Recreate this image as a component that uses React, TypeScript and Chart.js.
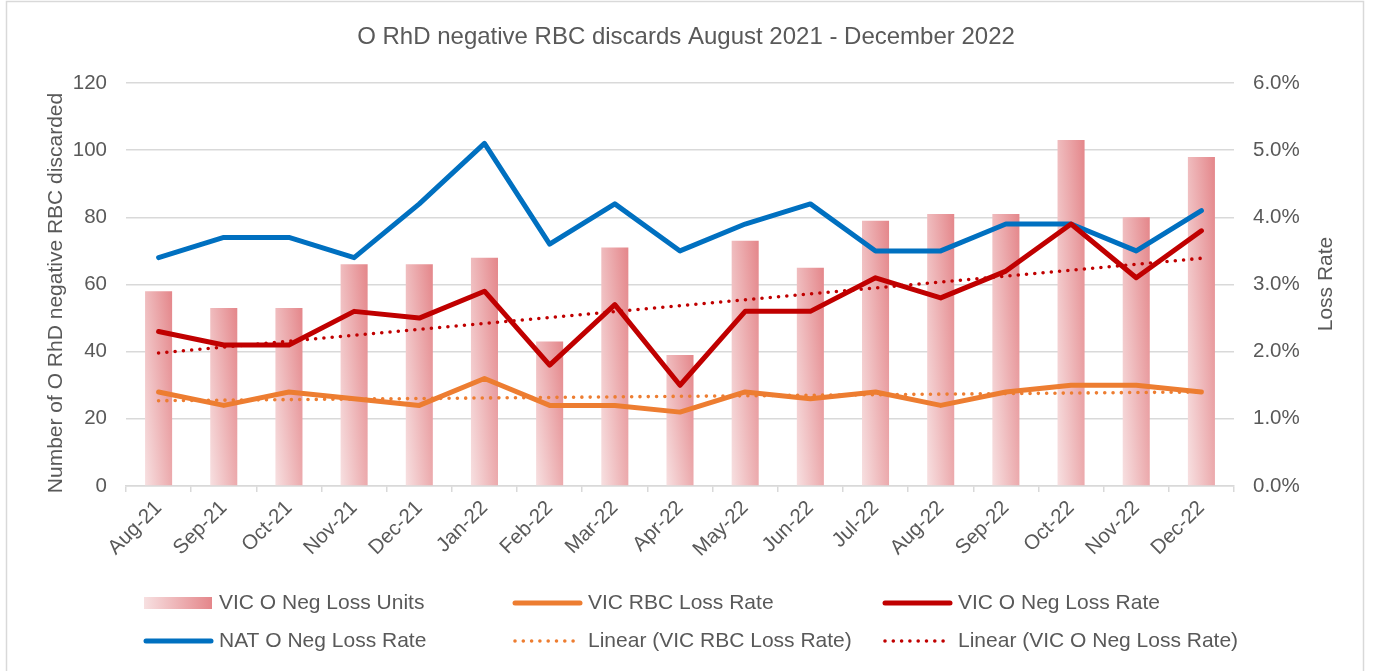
import React, { useEffect, useRef } from 'react';
import { Chart, registerables } from 'chart.js';

Chart.register(...registerables);

// ---- data ----
const months = ['Aug-21', 'Sep-21', 'Oct-21', 'Nov-21', 'Dec-21', 'Jan-22', 'Feb-22', 'Mar-22', 'Apr-22', 'May-22', 'Jun-22', 'Jul-22', 'Aug-22', 'Sep-22', 'Oct-22', 'Nov-22', 'Dec-22'];
const vicONegLossUnits = [58, 53, 53, 66, 66, 68, 43, 71, 39, 73, 65, 79, 81, 81, 103, 80, 98];
const vicRbcLossRate = [1.4, 1.2, 1.4, 1.3, 1.2, 1.6, 1.2, 1.2, 1.1, 1.4, 1.3, 1.4, 1.2, 1.4, 1.5, 1.5, 1.4];
const vicONegLossRate = [2.3, 2.1, 2.1, 2.6, 2.5, 2.9, 1.8, 2.7, 1.5, 2.6, 2.6, 3.1, 2.8, 3.2, 3.9, 3.1, 3.8];
const natONegLossRate = [3.4, 3.7, 3.7, 3.4, 4.2, 5.1, 3.6, 4.2, 3.5, 3.9, 4.2, 3.5, 3.5, 3.9, 3.9, 3.5, 4.1];
// trend lines: values read at first and last month
const vicRbcTrend = [1.27, 1.40];
const vicONegTrend = [1.98, 3.39];
const leftAxis = { min: 0, max: 120, step: 20 };
const rightAxis = { min: 0, max: 6, step: 1 };

const FONT = '"Liberation Sans", Arial, sans-serif';
const TEXT = '#595959';
const GRID = '#d9d9d9';
const BAR_LIGHT = '#f7e0e1';
const BAR_DARK = '#e4868a';
const BAR_PCT = 0.415;

function trendSeries(ends: number[]): (number | null)[] {
  return months.map((_, i) => (i === 0 ? ends[0] : i === months.length - 1 ? ends[1] : null));
}

function barGradient(c: any) {
  const chart = c.chart;
  if (c.type !== 'data' || !chart.chartArea) return BAR_DARK;
  const xs = chart.scales.x;
  const ys = chart.scales.y;
  const cx = xs.getPixelForValue(c.dataIndex);
  const w = (xs.width / months.length) * BAR_PCT;
  const left = cx - w / 2;
  const bottom = ys.getPixelForValue(0);
  const top = ys.getPixelForValue(c.raw);
  const h = Math.max(bottom - top, 1);
  const a = 0.6, b = 0.4;
  const dx = a / w, dy = -b / h;
  const n = dx * dx + dy * dy;
  const g = chart.ctx.createLinearGradient(left, bottom, left + dx / n, bottom + dy / n);
  g.addColorStop(0, BAR_LIGHT);
  g.addColorStop(1, BAR_DARK);
  return g;
}

const frameAndTextPlugin = {
  id: 'frameAndText',
  afterDraw(chart: any) {
    const ctx = chart.ctx;
    ctx.save();
    // frame
    ctx.strokeStyle = GRID;
    ctx.lineWidth = 1.5;
    ctx.strokeRect(6.5, 1.5, 1357, 720);
    // title
    ctx.fillStyle = TEXT;
    ctx.font = `24px ${FONT}`;
    ctx.textAlign = 'center';
    ctx.textBaseline = 'middle';
    ctx.fillText('O RhD negative RBC discards August 2021 - December 2022', 686, 37);
    // axis titles
    ctx.font = `21px ${FONT}`;
    ctx.textBaseline = 'alphabetic';
    ctx.save();
    ctx.translate(62, 293);
    ctx.rotate(-Math.PI / 2);
    ctx.fillText('Number of O RhD negative RBC discarded', 0, 0);
    ctx.restore();
    ctx.save();
    ctx.translate(1332, 284);
    ctx.rotate(-Math.PI / 2);
    ctx.fillText('Loss Rate', 0, 0);
    ctx.restore();
    // legend (3 columns x 2 rows)
    const cols = [219, 588, 958];
    const rows = [603, 641];
    chart.data.datasets.forEach((ds: any, i: number) => {
      const tx = cols[i % 3];
      const ty = rows[Math.floor(i / 3)];
      const sx0 = tx - 75;
      const sx1 = tx - 6;
      ctx.save();
      if (ds.type === 'bar') {
        const g = ctx.createLinearGradient(sx0, 0, sx0 + 68, 0);
        g.addColorStop(0, BAR_LIGHT);
        g.addColorStop(1, BAR_DARK);
        ctx.fillStyle = g;
        ctx.fillRect(sx0, ty - 6, 68, 12);
      } else {
        ctx.strokeStyle = ds.borderColor;
        ctx.lineWidth = ds.borderWidth;
        ctx.lineCap = 'round';
        ctx.setLineDash(ds.borderDash || []);
        ctx.beginPath();
        ctx.moveTo(sx0 + 2, ty);
        ctx.lineTo(sx1 - 2, ty);
        ctx.stroke();
      }
      ctx.restore();
      ctx.fillStyle = TEXT;
      ctx.font = `21px ${FONT}`;
      ctx.textAlign = 'left';
      ctx.textBaseline = 'middle';
      ctx.fillText(ds.label, tx, ty);
    });
    ctx.restore();
  },
};

export default function App() {
  const canvasRef = useRef<HTMLCanvasElement | null>(null);

  useEffect(() => {
    document.body.style.margin = '0';
    const canvas = canvasRef.current;
    if (!canvas) return;
    const lineBase = {
      type: 'line' as const,
      yAxisID: 'y1',
      pointRadius: 0,
      pointHoverRadius: 0,
      tension: 0,
      fill: false,
      borderCapStyle: 'round' as const,
      borderJoinStyle: 'round' as const,
    };
    const chart = new Chart(canvas, {
      type: 'bar',
      data: {
        labels: months,
        datasets: [
          {
            type: 'bar',
            label: 'VIC O Neg Loss Units',
            data: vicONegLossUnits,
            yAxisID: 'y',
            backgroundColor: barGradient,
            borderWidth: 0,
            barPercentage: BAR_PCT,
            categoryPercentage: 1,
            order: 10,
          } as any,
          { ...lineBase, label: 'VIC RBC Loss Rate', data: vicRbcLossRate, borderColor: '#ED7D31', borderWidth: 5, order: 5 },
          { ...lineBase, label: 'VIC O Neg Loss Rate', data: vicONegLossRate, borderColor: '#C00000', borderWidth: 5, order: 4 },
          { ...lineBase, label: 'NAT O Neg Loss Rate', data: natONegLossRate, borderColor: '#0070C0', borderWidth: 5, order: 6 },
          { ...lineBase, label: 'Linear (VIC RBC Loss Rate)', data: trendSeries(vicRbcTrend), borderColor: '#ED7D31', borderWidth: 3.6, borderDash: [0, 8.3], spanGaps: true, order: 2 },
          { ...lineBase, label: 'Linear (VIC O Neg Loss Rate)', data: trendSeries(vicONegTrend), borderColor: '#C00000', borderWidth: 3.6, borderDash: [0, 8.3], spanGaps: true, order: 1 },
        ] as any,
      },
      options: {
        responsive: true,
        maintainAspectRatio: false,
        animation: false,
        events: [],
        layout: { padding: { top: 83, bottom: 100, left: 0, right: 0 } },
        plugins: {
          legend: { display: false },
          title: { display: false },
          tooltip: { enabled: false },
        },
        scales: {
          x: {
            offset: true,
            afterFit: (s: any) => { s.height = 85; },
            grid: { display: true, drawOnChartArea: false, drawTicks: true, tickLength: 6, color: GRID, lineWidth: 1.5, offset: true },
            border: { display: true, color: GRID, width: 1.5 },
            ticks: { color: TEXT, font: { family: FONT, size: 20.5 }, minRotation: 45, maxRotation: 45, autoSkip: false, padding: 4 },
          },
          y: {
            position: 'left',
            min: leftAxis.min,
            max: leftAxis.max,
            afterFit: (s: any) => { s.width = 126; },
            grid: { color: GRID, lineWidth: 1.5, drawTicks: false },
            border: { display: false },
            ticks: { stepSize: leftAxis.step, color: TEXT, font: { family: FONT, size: 20.5 }, padding: 19 },
          },
          y1: {
            position: 'right',
            min: rightAxis.min,
            max: rightAxis.max,
            afterFit: (s: any) => { s.width = 139; },
            grid: { drawOnChartArea: false, drawTicks: false },
            border: { display: false },
            ticks: { stepSize: rightAxis.step, color: TEXT, font: { family: FONT, size: 20.5 }, padding: 19, callback: (v: any) => Number(v).toFixed(1) + '%' },
          },
        },
      } as any,
      plugins: [frameAndTextPlugin],
    });
    return () => chart.destroy();
  }, []);

  return (
    <div style={{ width: '1373px', height: '671px', position: 'relative', overflow: 'hidden', background: '#fff' }}>
      <canvas ref={canvasRef} />
    </div>
  );
}
